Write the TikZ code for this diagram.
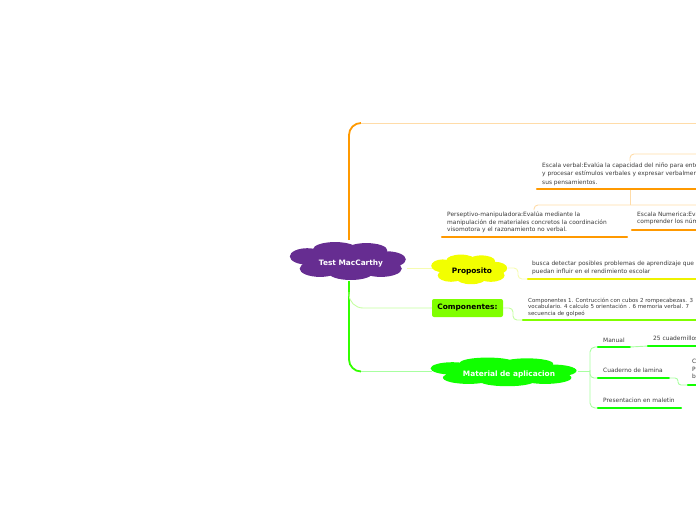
\documentclass[tikz,border=0pt]{standalone}
\usepackage{fontspec}
\setmainfont{DejaVu Sans}
\usetikzlibrary{calc}
\definecolor{mmpurple}{HTML}{662D91}
\definecolor{mmorange}{HTML}{FF9900}
\definecolor{mmlorange}{HTML}{FFDCA8}
\definecolor{mmyellow}{HTML}{F2FF00}
\definecolor{mmyline}{HTML}{EEF200}
\definecolor{mmlyellow}{HTML}{F6FCB0}
\definecolor{mmchart}{HTML}{80FF00}
\definecolor{mmlchart}{HTML}{C4FFA0}
\definecolor{mmgreen}{HTML}{11FF00}
\definecolor{mmtrunk}{HTML}{33FF00}
\definecolor{mmlgreen}{HTML}{A8FFA0}
\definecolor{txtgray}{HTML}{3A3A3A}
\newcommand\mmCloud[5]{%
 \begin{scope}[shift={(#1,#2)}, xscale=#3, yscale=#4]
  \fill[#5] (0,0) ellipse [x radius=0.78, y radius=0.7]
   (-0.24,-0.55) ellipse [x radius=0.38, y radius=0.35]
   (0.3,-0.5) ellipse [x radius=0.36, y radius=0.35]
   (-0.72,-0.2) ellipse [x radius=0.3, y radius=0.4]
   (0.65,-0.05) ellipse [x radius=0.33, y radius=0.4]
   (-0.5,0.4) ellipse [x radius=0.35, y radius=0.4]
   (0.03,0.6) ellipse [x radius=0.38, y radius=0.35]
   (0.55,0.4) ellipse [x radius=0.36, y radius=0.4];
 \end{scope}}
\begin{document}
\begin{tikzpicture}[x=1pt,y=-1pt,
  txt/.style={anchor=base west, inner sep=0, align=left, text=txtgray, font=\fontsize{5.9}{8.2}\selectfont},
  lbl/.style={inner sep=0, font=\bfseries\fontsize{7.4}{8}\selectfont},
  ul/.style={line width=2.2pt, line cap=round},
  conn/.style={line width=0.9pt}]
\useasboundingbox (0,0) rectangle (696,520);
\clip (0,0) rectangle (696,520);

% clouds
\mmCloud{349}{260.5}{58}{20.5}{mmpurple}
\mmCloud{470}{269}{38}{16}{mmyellow}
\mmCloud{505}{371.5}{73}{15.5}{mmgreen}
\node[inner sep=0, minimum width=116pt, minimum height=41pt] (root) at (349,260.5) {};
\node[lbl, text=white] (rootlbl) at (351,263.5) {Test MacCarthy};
\node[inner sep=0, minimum width=76pt, minimum height=32pt] (prop) at (470,269) {};
\node[lbl, text=black] (proplbl) at (472,271.5) {Proposito};
\node[inner sep=0, minimum width=146pt, minimum height=31pt] (mat) at (505,371.5) {};
\node[lbl, text=white] (matlbl) at (509,374.5) {Material de aplicacion};
\node[lbl, text=black, fill=mmchart, rounded corners=2pt, minimum width=71pt, minimum height=18pt] (comp) at (467.5,308) {Componentes:};

% coordinates
\coordinate (o1) at (349,123);
\coordinate (o2) at (361,123);
\coordinate (oEnd) at (696,123);
\coordinate (evA) at (537,189);
\coordinate (evB) at (696,189);
\coordinate (evTop) at (630,161);
\coordinate (evTopR) at (696,154);
\coordinate (evBot) at (630,190);
\coordinate (evBotJ) at (630,205);
\coordinate (evBotR) at (696,205);
\coordinate (pmTop) at (534,210);
\coordinate (pmA) at (442,237);
\coordinate (pmB) at (627,237);
\coordinate (enA) at (632,230);
\coordinate (enB) at (696,230);
\coordinate (ptA) at (528,279);
\coordinate (ptB) at (696,279);
\coordinate (ctA) at (523,320);
\coordinate (ctB) at (696,320);
\coordinate (manA) at (598,347);
\coordinate (manB) at (630,347);
\coordinate (cuA) at (598,378);
\coordinate (cuB) at (669,378);
\coordinate (preA) at (598,408);
\coordinate (preB) at (681,408);
\coordinate (cuaA) at (648,346);
\coordinate (cuaB) at (696,346);
\coordinate (cbA) at (688,385);
\coordinate (cbB) at (696,385);

% orange branch
\draw[mmorange, line width=1.8pt, rounded corners=12pt] (root.north) -- (o1) -- (o2);
\draw[mmlorange, conn] (o2) -- (oEnd);
\draw[mmlorange, conn, rounded corners=4pt] (evTop) -- (630,154) -- (evTopR);
\draw[mmlorange, conn] (evBot) -- (evBotJ);
\draw[mmlorange, conn, rounded corners=4pt] (evBotR) -- (534,205) -- (pmTop);
\draw[mmorange, ul] (evA) -- (evB);
\draw[mmorange, ul] (pmA) -- (pmB);
\draw[mmorange, ul] (enA) -- (enB);
\node[txt] (ev) at (542,184) {Escala verbal:Evalúa la capacidad del niño para entender\\y procesar estímulos verbales y expresar verbalmente\\sus pensamientos.};
\node[txt, font=\fontsize{5.9}{7.6}\selectfont] (pm) at (447,231.6) {Perseptivo-manipuladora:Evalúa mediante la\\manipulación de materiales concretos la coordinación\\visomotora y el razonamiento no verbal.};
\node[txt, font=\fontsize{5.9}{7.3}\selectfont] (en) at (637,223.8) {Escala Numerica:Evalúa la capacidad\\comprender los números};

% yellow branch
\draw[mmlyellow, conn] (407,268) -- (432,268);
\draw[mmlyellow, conn, rounded corners=4pt] (508,268) -- (518,268) -- (518,279) -- (ptA);
\draw[mmyline, ul] (ptA) -- (ptB);
\node[txt, font=\fontsize{5.9}{7.3}\selectfont] (pt) at (532,273) {busca detectar posibles problemas de aprendizaje que\\puedan influir en el rendimiento escolar};

% green trunk
\draw[mmtrunk, line width=1.8pt, rounded corners=12pt] (root.south) -- (349,371.5) -- (361,371.5);
\draw[mmlchart, conn, rounded corners=14pt] (349,292) -- (349,308) -- (comp.west);
\draw[mmlgreen, conn] (361,371.5) -- (mat.west);
\draw[mmlchart, conn, rounded corners=4pt] (comp.east) -- (513,308) -- (513,320) -- (ctA);
\draw[mmchart, ul] (ctA) -- (ctB);
\node[txt, font=\fontsize{5.5}{6.6}\selectfont] (ct) at (528,315.2) {Componentes 1. Contrucción con cubos 2 rompecabezas. 3\\vocabulario. 4 calculo 5 orientación . 6 memoria verbal. 7\\secuencia de golpeó};

% material children
\draw[mmlgreen, conn] (mat.east) -- (590,371.5);
\draw[mmlgreen, conn, rounded corners=5pt] (manA) -- (590,347) -- (590,408) -- (preA);
\draw[mmlgreen, conn, rounded corners=4pt] (590,370) -- (590,378) -- (cuA);
\draw[mmgreen, ul] (manA) -- (manB);
\draw[mmgreen, ul] (cuA) -- (cuB);
\draw[mmgreen, ul] (preA) -- (preB);
\draw[mmlgreen, conn] (manB) -- (cuaA);
\draw[mmgreen, ul] (cuaA) -- (cuaB);
\draw[mmlgreen, conn, rounded corners=3pt] (cuB) -- (678,378) -- (678,385) -- (cbA);
\draw[mmgreen, ul] (cbA) -- (cbB);
\node[txt] (man) at (603,342) {Manual};
\node[txt] (cu) at (603,372) {Cuaderno de lamina};
\node[txt] (pre) at (603,402) {Presentacion en maletin};
\node[txt] (cua) at (653,340.5) {25 cuadernillos};
\node[txt, font=\fontsize{5.9}{7.5}\selectfont] (cb) at (692,378.8) {C\\P\\b};
\end{tikzpicture}
\end{document}
